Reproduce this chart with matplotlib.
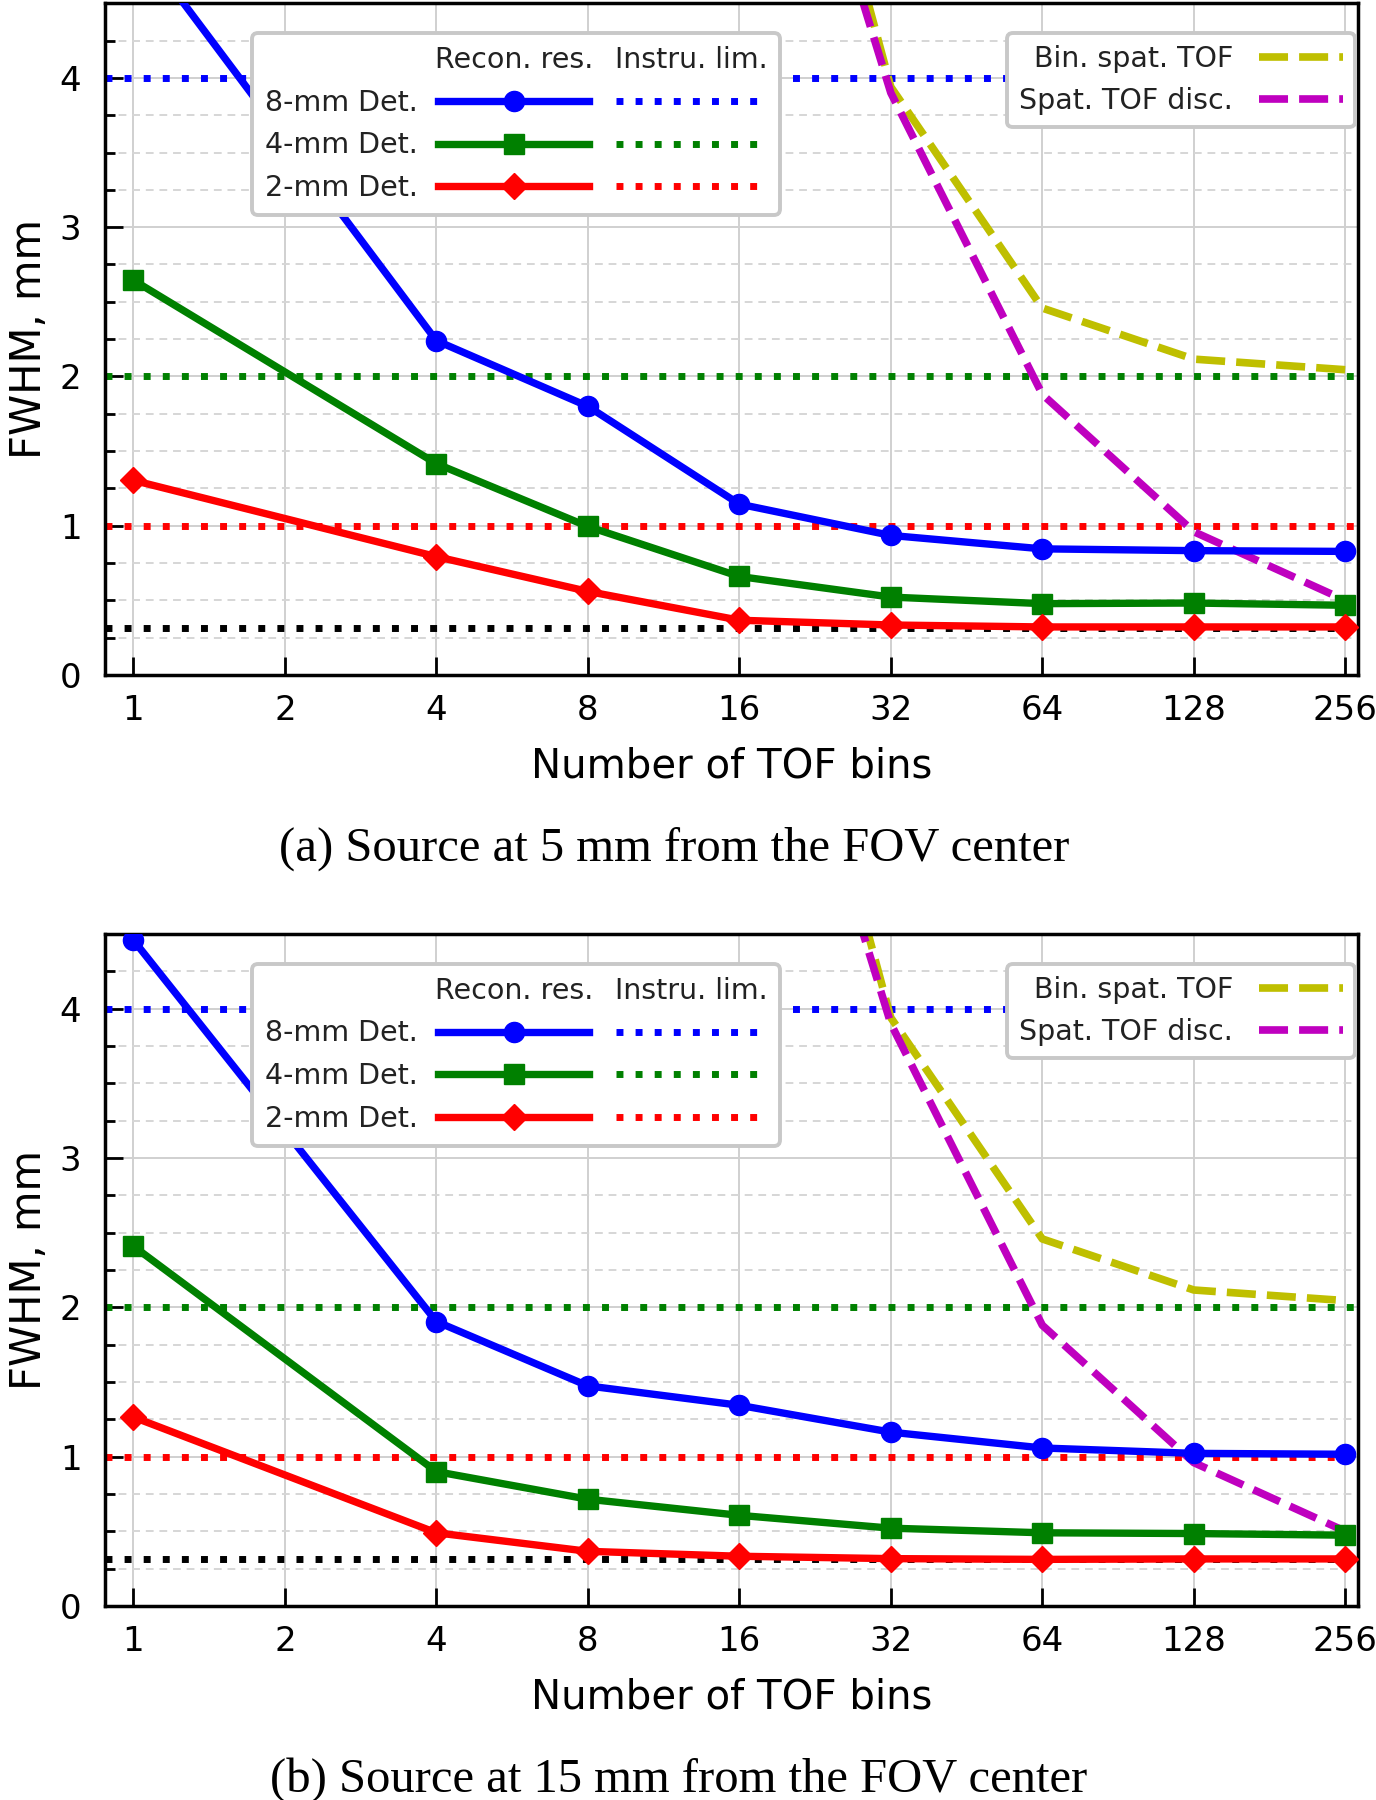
import matplotlib
matplotlib.use("Agg")
import matplotlib.pyplot as plt
from matplotlib.lines import Line2D
from matplotlib.text import Text
from matplotlib.legend_handler import HandlerBase
from matplotlib.ticker import MultipleLocator, NullLocator, FixedLocator

# ---------------- data ----------------
bins = [1, 4, 8, 16, 32, 64, 128, 256]
xtick_vals = [1, 2, 4, 8, 16, 32, 64, 128, 256]
xtick_labels = ["1", "2", "4", "8", "16", "32", "64", "128", "256"]
ytick_vals = [0, 1, 2, 3, 4]

a_8mm = [4.95, 2.24, 1.80, 1.145, 0.935, 0.845, 0.833, 0.828]
a_4mm = [2.645, 1.416, 0.995, 0.66, 0.522, 0.478, 0.482, 0.467]
a_2mm = [1.304, 0.793, 0.56, 0.367, 0.335, 0.322, 0.322, 0.322]

b_8mm = [4.46, 1.905, 1.474, 1.344, 1.164, 1.058, 1.022, 1.016]
b_4mm = [2.41, 0.90, 0.715, 0.607, 0.521, 0.49, 0.485, 0.474]
b_2mm = [1.265, 0.49, 0.366, 0.333, 0.317, 0.312, 0.315, 0.315]

spat_bins = [16, 32, 64, 128, 256]
bin_spat_tof = [7.7, 3.94, 2.458, 2.116, 2.045]
spat_tof_disc = [7.2, 3.9, 1.88, 0.96, 0.5]

instr_lim = [4.0, 2.0, 1.0]      # 8-mm, 4-mm, 2-mm
floor_lim = 0.315

det_labels = ["8-mm Det.", "4-mm Det.", "2-mm Det."]
det_colors = ["b", "g", "r"]
det_markers = ["o", "s", "D"]
det_ms = [14.5, 14, 13.5]
header_labels = ["Recon. res.", "Instru. lim."]
tof_labels = ["Bin. spat. TOF", "Spat. TOF disc."]
captions = ["(a) Source at 5 mm from the FOV center",
            "(b) Source at 15 mm from the FOV center"]

# ---------------- styles ----------------
LW = 5.3
DOT_LW = 5.0
DOT = (0, (1, 1.75))
DASH_LW = 5.5
DASH = (0, (3.8, 1.45))
LEG_FS = 20.5
TICK_FS = 24.5
XLAB_FS = 29
YLAB_FS = 30


class HeaderHandle:
    def __init__(self, text):
        self.text = text


class HeaderHandler(HandlerBase):
    def create_artists(self, legend, orig_handle, xdescent, ydescent,
                       width, height, fontsize, trans):
        t = Text(x=width / 2 - xdescent, y=-ydescent, text=orig_handle.text,
                 ha="center", va="baseline", fontsize=fontsize,
                 color="#222222")
        t.set_transform(trans)
        return [t]


fig = plt.figure(figsize=(13.76, 18.0), dpi=100)
ax_pos = [[0.0763, 0.625, 0.9103, 0.3732],
          [0.0763, 0.1078, 0.9103, 0.3733]]
panel_data = [(a_8mm, a_4mm, a_2mm), (b_8mm, b_4mm, b_2mm)]
caption_pos = [(0.490, 0.5287), (0.4935, 0.0116)]

for p in range(2):
    ax = fig.add_axes(ax_pos[p])
    ax.set_xscale("log", base=2)
    ax.set_xlim(2 ** -0.187, 2 ** 8.081)
    ax.set_ylim(0, 4.5)

    # grid
    ax.set_axisbelow(True)
    ax.grid(which="major", axis="both", color="#d0d0d0", lw=1.4, ls="-")
    ax.grid(which="minor", axis="y", color="#d6d6d6", lw=1.4, ls=(0, (4, 3)))

    # instrument limit lines
    for v, c in zip(instr_lim, det_colors):
        ax.axhline(v, color=c, lw=DOT_LW, ls=DOT, zorder=1.5)
    ax.axhline(floor_lim, color="k", lw=DOT_LW, ls=DOT, zorder=1.5)

    # TOF curves
    ax.plot(spat_bins, bin_spat_tof, color="y", lw=DASH_LW, ls=DASH, zorder=1.8)
    ax.plot(spat_bins, spat_tof_disc, color="m", lw=DASH_LW, ls=DASH, zorder=1.9)

    # reconstructed resolution
    for vals, c, mk, ms in zip(panel_data[p], det_colors, det_markers, det_ms):
        ax.plot(bins, vals, color=c, lw=LW, marker=mk, ms=ms, zorder=3)

    # ticks
    ax.xaxis.set_major_locator(FixedLocator(xtick_vals))
    ax.set_xticklabels(xtick_labels)
    ax.xaxis.set_minor_locator(NullLocator())
    ax.yaxis.set_major_locator(FixedLocator(ytick_vals))
    ax.yaxis.set_minor_locator(MultipleLocator(0.25))
    ax.tick_params(which="major", direction="in", length=13, width=2,
                   labelsize=TICK_FS, pad=14, top=False, right=False)
    ax.tick_params(axis="y", which="major", pad=17)
    ax.tick_params(which="minor", direction="in", length=7, width=2,
                   top=False, right=False)
    ax.tick_params(axis="x", which="minor", bottom=False)
    for s in ax.spines.values():
        s.set_linewidth(2.5)
        s.set_color("k")

    ax.set_xlabel("Number of TOF bins", fontsize=XLAB_FS, labelpad=14)
    ax.set_ylabel("FWHM, mm", fontsize=YLAB_FS, labelpad=7)

    # legend 1: detector table
    h = [HeaderHandle(header_labels[0])]
    for c, mk, ms in zip(det_colors, det_markers, det_ms):
        h.append(Line2D([], [], color=c, lw=LW, marker=mk, ms=ms))
    h.append(HeaderHandle(header_labels[1]))
    for c in det_colors:
        h.append(Line2D([], [], color=c, lw=DOT_LW, ls=DOT))
    labels = [""] + det_labels + ["", "", "", ""]
    leg1 = ax.legend(h, labels, ncol=2, markerfirst=False,
                     loc="upper left", bbox_to_anchor=(0.1174, 0.9556),
                     borderaxespad=0, fontsize=LEG_FS, handlelength=5.3,
                     handletextpad=0.72, columnspacing=0.22,
                     labelspacing=0.52, borderpad=0.45, framealpha=1,
                     fancybox=True,
                     handler_map={HeaderHandle: HeaderHandler()})
    leg1.get_frame().set_edgecolor("#c8c8c8")
    leg1.get_frame().set_linewidth(2.8)
    for t in leg1.get_texts():
        t.set_color("#222222")
    leg1.set_zorder(6)
    ax.add_artist(leg1)

    # legend 2: TOF curves
    h2 = [Line2D([], [], color="y", lw=DASH_LW, ls=DASH),
          Line2D([], [], color="m", lw=DASH_LW, ls=DASH)]
    leg2 = ax.legend(h2, tof_labels, markerfirst=False, loc="upper right",
                     bbox_to_anchor=(0.998, 0.9556), borderaxespad=0,
                     fontsize=LEG_FS, handlelength=2.97, handletextpad=0.9,
                     labelspacing=0.5, borderpad=0.42, framealpha=1,
                     fancybox=True)
    leg2.get_frame().set_edgecolor("#c8c8c8")
    leg2.get_frame().set_linewidth(2.8)
    for t in leg2.get_texts():
        t.set_color("#222222")
    leg2.set_zorder(6)

    fig.text(caption_pos[p][0], caption_pos[p][1], captions[p],
             ha="center", va="center", fontsize=35,
             family="Liberation Serif")

fig.savefig("out.png", dpi=100)
